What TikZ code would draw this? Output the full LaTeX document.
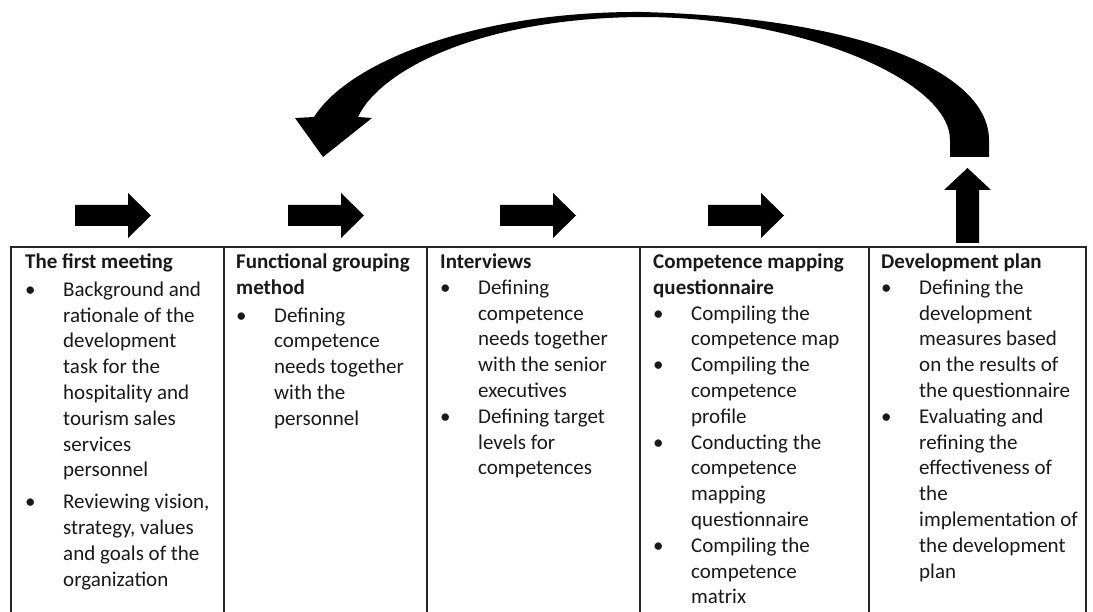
\documentclass[tikz,border=0pt]{standalone}
\usepackage{fontspec}
\setmainfont{Carlito}
\usepackage{array}
\newcommand{\stagefont}{\fontsize{21}{25.8}\selectfont}

\begin{document}
\begin{tikzpicture}[x=1pt,y=-1pt,
  stage/.style={anchor=base west, inner sep=0pt, font=\stagefont, text=black!90},
  grid/.style={line width=1.4pt, black!85},
  ]
\useasboundingbox (0,0) rectangle (1093,612);

% table frame, open at the bottom
\draw[grid] (11,612) -- (11,247) -- (1086,247) -- (1086,612);
\draw[grid] (224,247) -- (224,612);
\draw[grid] (427,247) -- (427,612);
\draw[grid] (640,247) -- (640,612);
\draw[grid] (869,247) -- (869,612);

% the five stages
\node[stage] (first) at (25,268.5) {\begin{tabular}[t]{@{}p{38pt}@{}l@{}}
  \multicolumn{2}{@{}l@{}}{\bfseries The first meeting}\\[2pt]
  \textbullet & Background and\\
   & rationale of the\\
   & development\\
   & task for the\\
   & hospitality and\\
   & tourism sales\\
   & services\\
   & personnel\\[6pt]
  \textbullet & Reviewing vision,\\
   & strategy, values\\
   & and goals of the\\
   & organization
  \end{tabular}};
\node[stage] (grouping) at (236,268.5) {\begin{tabular}[t]{@{}p{38pt}@{}l@{}}
  \multicolumn{2}{@{}l@{}}{\bfseries Functional grouping}\\
  \multicolumn{2}{@{}l@{}}{\bfseries method}\\[2pt]
  \textbullet & Defining\\
   & competence\\
   & needs together\\
   & with the\\
   & personnel
  \end{tabular}};
\node[stage] (interviews) at (440,268.5) {\begin{tabular}[t]{@{}p{38pt}@{}l@{}}
  \multicolumn{2}{@{}l@{}}{\bfseries Interviews}\\
  \textbullet & Defining\\
   & competence\\
   & needs together\\
   & with the senior\\
   & executives\\
  \textbullet & Defining target\\
   & levels for\\
   & competences
  \end{tabular}};
\node[stage] (mapping) at (653,268.5) {\begin{tabular}[t]{@{}p{38pt}@{}l@{}}
  \multicolumn{2}{@{}l@{}}{\bfseries Competence mapping}\\
  \multicolumn{2}{@{}l@{}}{\bfseries questionnaire}\\
  \textbullet & Compiling the\\
   & competence map\\
  \textbullet & Compiling the\\
   & competence\\
   & profile\\
  \textbullet & Conducting the\\
   & competence\\
   & mapping\\
   & questionnaire\\
  \textbullet & Compiling the\\
   & competence\\
   & matrix
  \end{tabular}};
\node[stage] (plan) at (881,268.5) {\begin{tabular}[t]{@{}p{38pt}@{}l@{}}
  \multicolumn{2}{@{}l@{}}{\bfseries Development plan}\\
  \textbullet & Defining the\\
   & development\\
   & measures based\\
   & on the results of\\
   & the questionnaire\\
  \textbullet & Evaluating and\\
   & refining the\\
   & effectiveness of\\
   & the\\
   & implementation of\\
   & the development\\
   & plan
  \end{tabular}};

% block arrows between the stages
\fill (75,205) -- (128,205) -- (128,193) -- (151,215.5) -- (128,238) -- (128,226) -- (75,226) -- cycle;
\fill (288,205) -- (341,205) -- (341,193) -- (364,215.5) -- (341,238) -- (341,226) -- (288,226) -- cycle;
\fill (500,205) -- (553,205) -- (553,193) -- (576,215.5) -- (553,238) -- (553,226) -- (500,226) -- cycle;
\fill (708,205) -- (761,205) -- (761,193) -- (784,215.5) -- (761,238) -- (761,226) -- (708,226) -- cycle;

% up arrow out of the development plan
\fill (956,243) -- (956,190) -- (944,190) -- (967.5,168) -- (991,190) -- (979,190) -- (979,243) -- cycle;

% curved arrow back to the functional grouping
\fill (989,157) -- (989,140) .. controls (989,75) and (870,18) .. (642,12)
  .. controls (480,11) and (350,60) .. (314,117)
  -- (295,118) -- (323,157) -- (372,118) -- (358,117)
  .. controls (380,70) and (480,18) .. (642,17)
  .. controls (800,17) and (950,80) .. (950,140) -- (950,157) -- cycle;
\end{tikzpicture}
\end{document}
